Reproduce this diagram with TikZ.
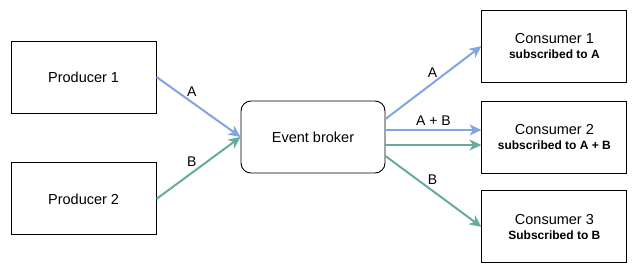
\documentclass[tikz,border=0pt]{standalone}
\usepackage{fontspec}
\setmainfont{Liberation Sans}
\usetikzlibrary{arrows.meta,positioning}

\definecolor{msgblue}{HTML}{7EA6E0}
\definecolor{msggreen}{HTML}{67AB9F}

\newcommand{\subline}[1]{{\fontsize{12}{14}\selectfont\bfseries #1}}

\begin{document}
\begin{tikzpicture}[
  x=1pt, y=-1pt,
  font=\fontsize{14.5}{15}\selectfont,
  >={Stealth[length=12pt, width=11pt, inset=3.5pt]},
  party/.style={
    draw=black,
    line width=.9pt,
    fill=white,
    align=center,
    inner sep=2pt,
    minimum width=145pt,
    minimum height=72pt
  },
  broker/.style={
    party,
    rounded corners=10pt,
    minimum width=144pt
  },
  bluearrow/.style={->, line width=2pt, draw=msgblue},
  greenarrow/.style={->, line width=2pt, draw=msggreen},
  msg/.style={font=\fontsize{14}{16}\selectfont, inner sep=2pt}
]
\useasboundingbox (0,0) rectangle (638,275);

\node[broker] (broker) at (313,137) {Event broker};

\node[party, left=84pt of broker, yshift=60pt] (prod1) {Producer 1};
\node[party, below=49pt of prod1] (prod2) {Producer 2};

\node[party, right=96pt of broker] (cons2)
  {Consumer 2\\\subline{subscribed to A + B}};
\node[party, above=18pt of cons2] (cons1)
  {Consumer 1\\\subline{subscribed to A}};
\node[party, below=17pt of cons2] (cons3)
  {Consumer 3\\\subline{Subscribed to B}};

% producers to broker
\draw[bluearrow] (prod1.east) -- node[msg, pos=.42, above=3pt] (msga) {A} (broker.west);
\draw[greenarrow] (prod2.east) -- node[msg, pos=.42, above=3pt] (msgb) {B} (broker.west);

% broker to consumers
\draw[bluearrow] ([yshift=18pt]broker.east) -- node[msg, pos=.49, above=3pt] (outa) {A} (cons1.west);
\draw[bluearrow] ([yshift=7pt]broker.east) -- node[msg, pos=.5, above=1pt] (outab) {A + B} ([yshift=7pt]cons2.west);
\draw[greenarrow] ([yshift=-8pt]broker.east) -- ([yshift=-8pt]cons2.west);
\draw[greenarrow] ([yshift=-19pt]broker.east) -- node[msg, pos=.49, above=3pt] (outb) {B} (cons3.west);

\end{tikzpicture}
\end{document}
